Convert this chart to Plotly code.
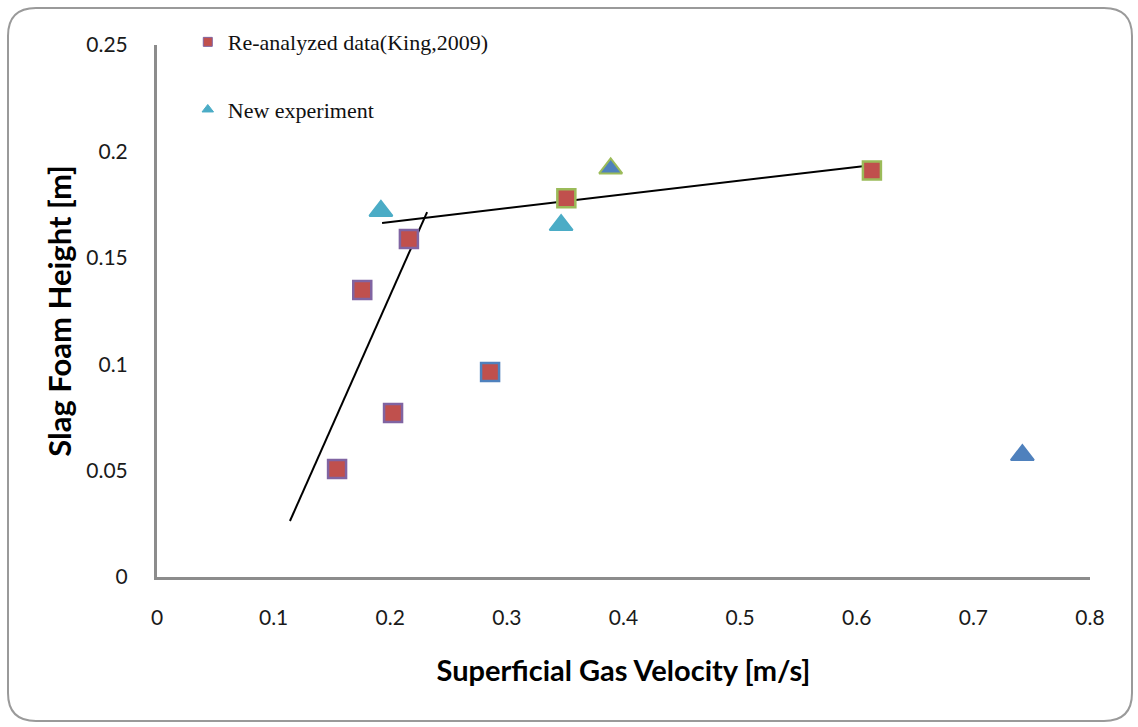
import plotly.graph_objects as go

# Data
king_x = [0.1544, 0.176, 0.2024, 0.216, 0.2856, 0.351, 0.613]
king_y = [0.0508, 0.1349, 0.0771, 0.1588, 0.0963, 0.178, 0.191]
king_edge = ["#8064A2", "#8064A2", "#8064A2", "#8064A2", "#4F81BD", "#9BBB59", "#9BBB59"]

new_x = [0.192, 0.3465, 0.389, 0.742]
new_y = [0.172, 0.1654, 0.192, 0.0573]
new_fill = ["#4BACC6", "#4BACC6", "#4F81BD", "#4F81BD"]
new_edge = ["#4BACC6", "#4BACC6", "#9BBB59", "#4F81BD"]

steep_x = [0.114, 0.2316]
steep_y = [0.0263, 0.1715]
flat_x = [0.193, 0.620]
flat_y = [0.1664, 0.194]

x_ticks = [0, 0.1, 0.2, 0.3, 0.4, 0.5, 0.6, 0.7, 0.8]
x_tick_text = ["0", "0.1", "0.2", "0.3", "0.4", "0.5", "0.6", "0.7", "0.8"]
y_ticks = [0, 0.05, 0.1, 0.15, 0.2, 0.25]
y_tick_text = ["0", "0.05", "0.1", "0.15", "0.2", "0.25"]

W, H = 1138, 727
L, R, T, B = 157, 48, 45, 150
PW, PH = W - L - R, H - T - B

fig = go.Figure()

fig.add_trace(go.Scatter(x=steep_x, y=steep_y, mode="lines",
                         line=dict(color="black", width=2), showlegend=False, hoverinfo="skip"))
fig.add_trace(go.Scatter(x=flat_x, y=flat_y, mode="lines",
                         line=dict(color="black", width=2), showlegend=False, hoverinfo="skip"))

fig.add_trace(go.Scatter(x=king_x, y=king_y, mode="markers", showlegend=False,
                         legendgroup="a",
                         marker=dict(symbol="square", size=18, color="#C0504D",
                                     line=dict(color=king_edge, width=2.5))))
fig.add_trace(go.Scatter(x=new_x, y=new_y, mode="markers", showlegend=False,
                         legendgroup="b",
                         marker=dict(symbol="triangle-up", size=20, color=new_fill,
                                     line=dict(color=new_edge, width=2))))

# legend entries
fig.add_trace(go.Scatter(x=[None], y=[None], mode="markers", name="Re-analyzed data(King,2009)",
                         legendgroup="a",
                         marker=dict(symbol="square", size=9, color="#C0504D",
                                     line=dict(color="#8064A2", width=1))))
fig.add_trace(go.Scatter(x=[None], y=[None], mode="markers", name="New experiment",
                         legendgroup="b",
                         marker=dict(symbol="triangle-up", size=10, color="#4BACC6",
                                     line=dict(color="#4BACC6", width=1))))


def px_to_paper(px, py):
    return (px - L) / PW, (H - B - py) / PH


def rounded_rect(x0, y0, x1, y1, r):
    pts = []
    def P(cmd, *xy):
        coords = []
        for i in range(0, len(xy), 2):
            a, b = px_to_paper(xy[i], xy[i + 1])
            coords.append(f"{a:.5f},{b:.5f}")
        pts.append(cmd + " " + " ".join(coords))
    P("M", x0 + r, y0)
    P("L", x1 - r, y0)
    P("Q", x1, y0, x1, y0 + r)
    P("L", x1, y1 - r)
    P("Q", x1, y1, x1 - r, y1)
    P("L", x0 + r, y1)
    P("Q", x0, y1, x0, y1 - r)
    P("L", x0, y0 + r)
    P("Q", x0, y0, x0 + r, y0)
    return " ".join(pts) + " Z"


fig.add_shape(type="path", xref="paper", yref="paper",
              path=rounded_rect(8, 8, 1132, 721, 28),
              line=dict(color="#9a9a9a", width=2), layer="below")

fig.update_layout(
    width=W, height=H,
    margin=dict(l=L, r=R, t=T, b=B),
    paper_bgcolor="white", plot_bgcolor="white",
    font=dict(family="Lato, sans-serif", color="#1a1a1a"),
    legend=dict(x=0.033, y=1.045, xanchor="left", yanchor="top",
                font=dict(family="Liberation Serif", size=22, color="#111"),
                tracegroupgap=36, bgcolor="rgba(0,0,0,0)", itemwidth=30),
    xaxis=dict(range=[0, 0.8], tickvals=x_ticks, ticktext=x_tick_text,
               showgrid=False, zeroline=False, showline=True, linecolor="#8c8c8c",
               linewidth=3, ticks="", tickfont=dict(size=21, family="Lato"),
               ticklabelstandoff=20,
               title=dict(text="<b>Superficial Gas Velocity [m/s]</b>",
                          font=dict(size=29, family="Lato", color="black"), standoff=33)),
    yaxis=dict(range=[0, 0.25], tickvals=y_ticks, ticktext=y_tick_text,
               showgrid=False, zeroline=False, showline=True, linecolor="#8c8c8c",
               linewidth=3, ticks="", tickfont=dict(size=21, family="Lato"),
               ticklabelstandoff=22,
               title=dict(text="<b>Slag Foam Height [m]</b>",
                          font=dict(size=31, family="Lato", color="black"), standoff=6)),
)

fig.write_html("out.html")
